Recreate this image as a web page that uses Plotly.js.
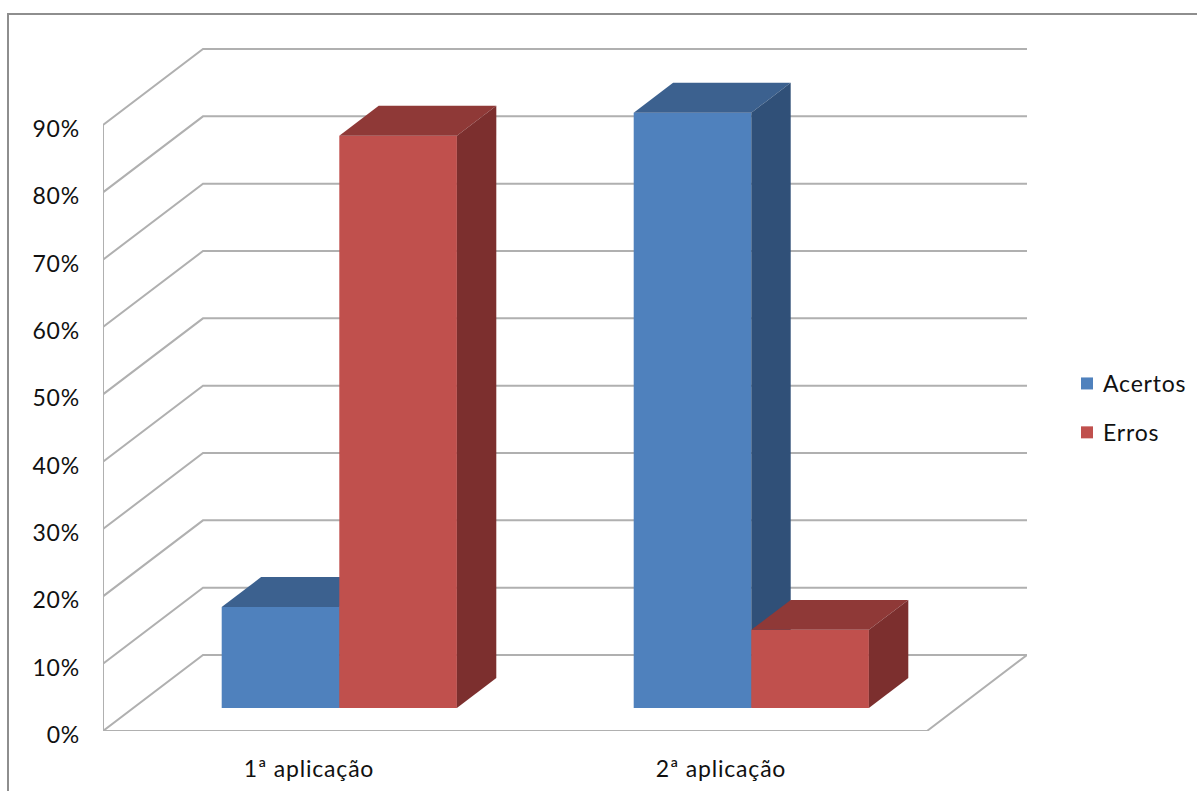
<!DOCTYPE html>
<html>
<head>
<meta charset="utf-8">
<script src="https://cdn.plot.ly/plotly-3.0.1.min.js"></script>
<style>
html,body{margin:0;padding:0;background:#fff}
#chart{width:1197px;height:791px}
#chart text{letter-spacing:.8px}
#chart .legend{translate:7px 0}
#chart .legend .legendtext{transform:translateX(-4px)}
#chart .legend .legendpoints path{stroke-width:2px!important}
</style>
</head>
<body>
<div id="chart"></div>
<script>
const categories = ['1ª aplicação', '2ª aplicação'];
const acertos = [15, 88.4];
const erros = [85, 11.6];
const yTicks = [0, 10, 20, 30, 40, 50, 60, 70, 80, 90];

const colors = {
  acertos: {front: '#4f81bd', top: '#3c618f', side: '#305078'},
  erros: {front: '#c0504d', top: '#8f3937', side: '#7c2f2e'}
};
const gridColor = '#b0b0b0';
const fontFamily = 'Lato, "Open Sans", sans-serif';

// Pixel layout of the plotting box and the oblique depth vector of the 3D view.
const W = 1197, H = 791;
const left = 103, top_ = 40, bottom = 60;
const pxPerCat = 412, pxPerPct = 6.733;
const plotW = 924, plotH = H - top_ - bottom;
const depthX = 100 / pxPerCat, depthY = 76 / pxPerPct;
const barWidth = 117.6 / pxPerCat;
const depthFront = 0.303, depthBack = 0.697;

// Oblique projection: category position, value and depth (0 front, 1 back wall).
const proj = (x, v, d) => [x + d * depthX, v + d * depthY];

function polyTrace(points, color, axisSuffix) {
  return {
    type: 'scatter', mode: 'lines', fill: 'toself', fillcolor: color,
    x: points.map(p => p[0]), y: points.map(p => p[1]),
    line: {width: 0, color: color}, hoverinfo: 'skip', showlegend: false,
    cliponaxis: false, xaxis: 'x' + axisSuffix, yaxis: 'y' + axisSuffix
  };
}

// One series: the bar fronts plus a top and a side polygon per bar.
function seriesTraces(name, values, offset, palette, axisSuffix) {
  const xs = categories.map((_, i) => i + 0.5 + offset * barWidth / 2 + depthFront * depthX);
  const base = depthFront * depthY;
  const traces = [{
    type: 'bar', name: name, x: xs, y: values, base: values.map(() => base),
    width: values.map(() => barWidth),
    marker: {color: palette.front, line: {width: 0, color: palette.front}},
    legendgroup: name, cliponaxis: false,
    xaxis: 'x' + axisSuffix, yaxis: 'y' + axisSuffix,
    hovertemplate: name + ': %{y}%<extra></extra>'
  }];
  values.forEach((v, i) => {
    const x0 = i + 0.5 + offset * barWidth / 2 - barWidth / 2;
    const x1 = x0 + barWidth;
    traces.push(polyTrace([proj(x0, v, depthFront), proj(x1, v, depthFront),
      proj(x1, v, depthBack), proj(x0, v, depthBack), proj(x0, v, depthFront)], palette.top, axisSuffix));
    traces.push(polyTrace([proj(x1, 0, depthFront), proj(x1, v, depthFront),
      proj(x1, v, depthBack), proj(x1, 0, depthBack), proj(x1, 0, depthFront)], palette.side, axisSuffix));
  });
  return traces;
}

// Gridlines run along the left wall and the back wall; the floor closes the box.
const gridX = [], gridY = [];
const pushPoint = p => { gridX.push(p ? p[0] : null); gridY.push(p ? p[1] : null); };
const xEnd = categories.length;
yTicks.forEach(t => {
  pushPoint(proj(0, t, 0)); pushPoint(proj(0, t, 1)); pushPoint(proj(xEnd, t, 1)); pushPoint(null);
});
pushPoint(proj(xEnd, 0, 1)); pushPoint(proj(xEnd, 0, 0)); pushPoint(proj(0, 0, 0));
pushPoint(proj(0, yTicks[yTicks.length - 1], 0));

const wallTrace = {
  type: 'scatter', mode: 'lines', x: gridX, y: gridY, connectgaps: false,
  line: {color: gridColor, width: 2}, hoverinfo: 'skip', showlegend: false, cliponaxis: false
};

const data = [wallTrace]
  .concat(seriesTraces('Acertos', acertos, -1, colors.acertos, '2'))
  .concat(seriesTraces('Erros', erros, 1, colors.erros, '3'));

const xRange = [0, plotW / pxPerCat];
const yRange = [0, plotH / pxPerPct];
const hiddenX = {range: xRange, overlaying: 'x', visible: false, fixedrange: true};
const hiddenY = {range: yRange, overlaying: 'y', visible: false, fixedrange: true};
const paperX = px => (px - left) / plotW;
const paperY = py => (H - bottom - py) / plotH;

const layout = {
  width: W, height: H,
  margin: {l: left, r: W - left - plotW, t: top_, b: bottom, pad: 0},
  paper_bgcolor: '#fff', plot_bgcolor: 'rgba(0,0,0,0)',
  font: {family: fontFamily, size: 23, color: '#111'},
  showlegend: true,
  legend: {
    x: paperX(1060), y: paperY(362), xanchor: 'left', yanchor: 'top',
    traceorder: 'grouped', tracegroupgap: 16, bgcolor: 'rgba(0,0,0,0)',
    font: {family: fontFamily, size: 23, color: '#111'}
  },
  xaxis: {
    range: xRange, tickmode: 'array', tickvals: categories.map((_, i) => i + 0.5),
    ticktext: categories, showgrid: false, zeroline: false, showline: false, ticks: '',
    ticklabelstandoff: 22, fixedrange: true
  },
  yaxis: {
    range: yRange, tickmode: 'array', tickvals: yTicks, ticktext: yTicks.map(t => t + '%'),
    showgrid: false, zeroline: false, showline: false, ticks: '',
    ticklabelstandoff: 22, ticklabelshift: 4, fixedrange: true
  },
  xaxis2: hiddenX, yaxis2: hiddenY, xaxis3: hiddenX, yaxis3: hiddenY,
  shapes: [{
    type: 'path', xref: 'paper', yref: 'paper', layer: 'below',
    path: `M${paperX(8)},${paperY(H)} L${paperX(8)},${paperY(14)} L${paperX(W)},${paperY(14)}`,
    line: {color: '#8e8e8e', width: 2}
  }]
};

Plotly.newPlot('chart', data, layout, {displayModeBar: false, staticPlot: true});
</script>
</body>
</html>
